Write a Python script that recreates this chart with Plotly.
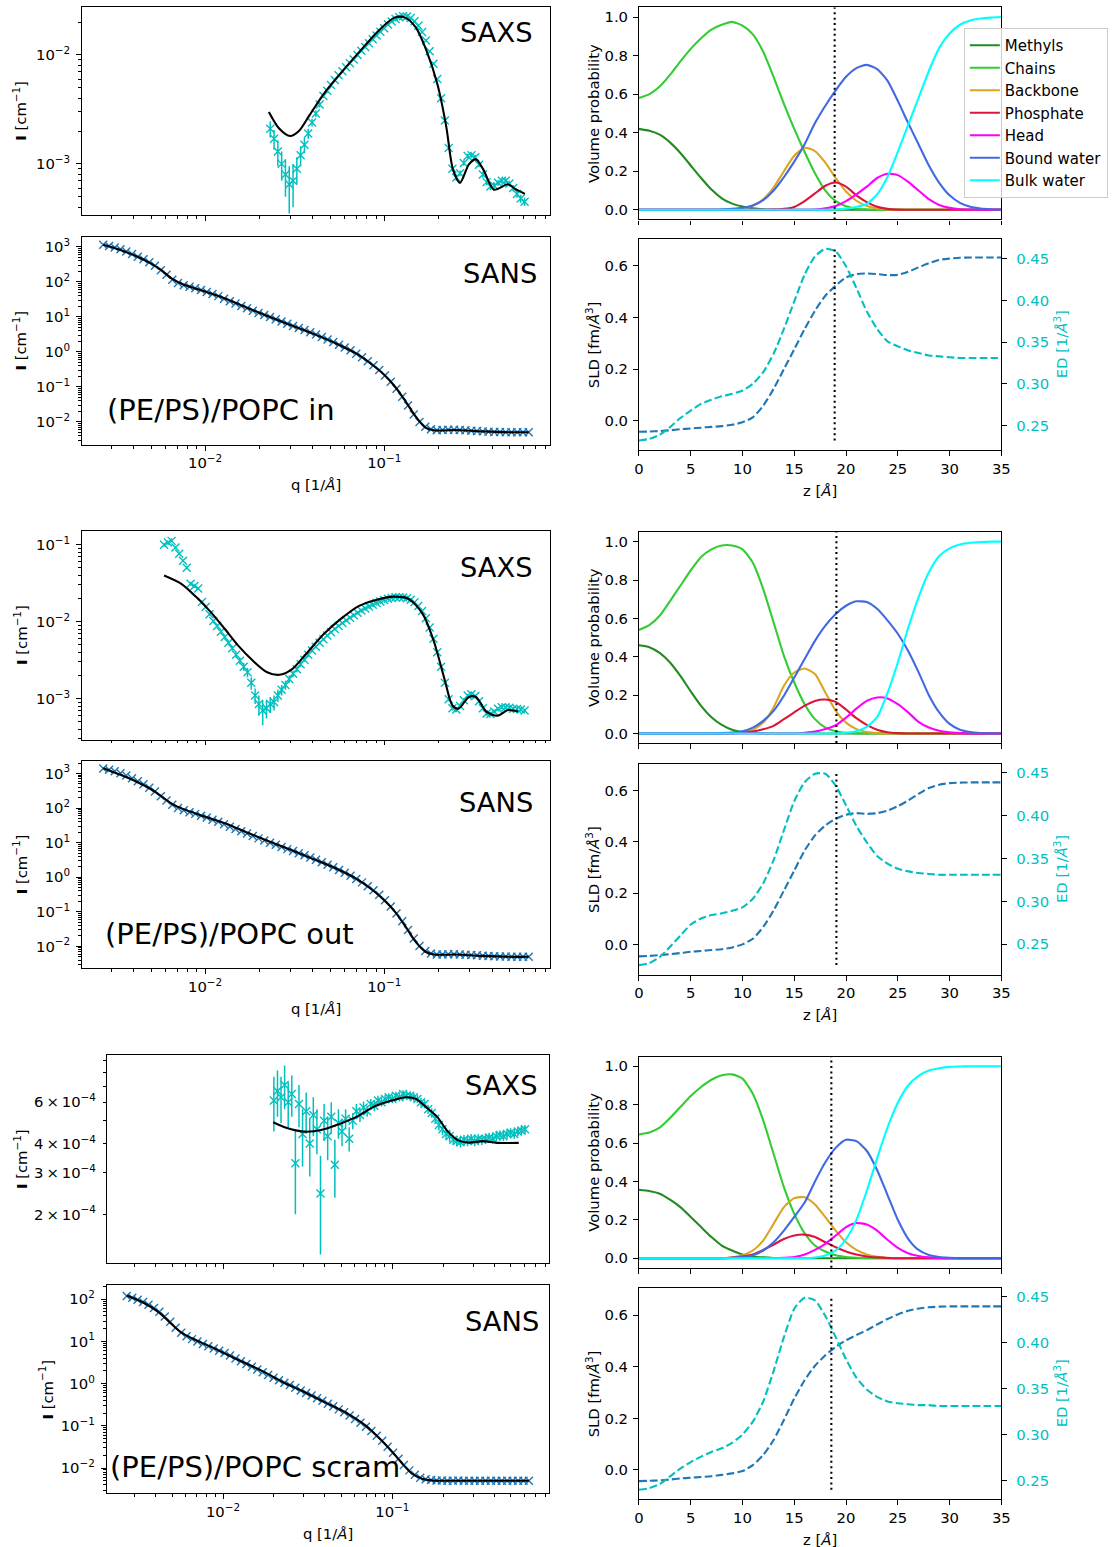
import plotly.graph_objects as go

# ------------------------------------------------------------------ data
SAMPLE_LABELS = ["(PE/PS)/POPC in", "(PE/PS)/POPC out", "(PE/PS)/POPC scram"]
COMPONENTS = ["Methyls", "Chains", "Backbone", "Phosphate", "Head", "Bound water", "Bulk water"]
COMPONENT_COLORS = ["#228b22", "#32cd32", "#daa520", "#dc143c", "#ff00ff", "#4169e1", "#00ffff"]

# SANS: measured q grid [1/A] and intensities [1/cm]
SANS_Q = [
    0.0027, 0.00291, 0.00313, 0.00337, 0.00363, 0.00391, 0.00421, 0.00453, 0.00488, 0.00525,
    0.00566, 0.00609, 0.00656, 0.00706, 0.0076, 0.00819, 0.00881, 0.00949, 0.01022, 0.011,
    0.01185, 0.01276, 0.01374, 0.01479, 0.01593, 0.01715, 0.01846, 0.01988, 0.0214, 0.02305,
    0.02481, 0.02672, 0.02877, 0.03097, 0.03335, 0.03591, 0.03866, 0.04163, 0.04482, 0.04826,
    0.05196, 0.05594, 0.06023, 0.06485, 0.06983, 0.07518, 0.08095, 0.08716, 0.09384, 0.101,
    0.1088, 0.1171, 0.1261, 0.1358, 0.1462, 0.1574, 0.1695, 0.1825, 0.1965, 0.2116,
    0.2278, 0.2453, 0.2641, 0.2843, 0.3061, 0.3296, 0.3549, 0.3821, 0.4114, 0.443,
    0.477, 0.5135, 0.5529, 0.5953, 0.641,
]
SANS_I_IN = [
    1150, 1060, 960, 850, 740, 620, 520, 440, 360, 290,
    215, 160, 115, 92, 80, 72, 65, 58, 51, 45,
    39, 33, 28, 24, 20.5, 17.5, 15, 12.8, 11.2, 9.8,
    8.5, 7.3, 6.3, 5.5, 4.8, 4.2, 3.6, 3.1, 2.65, 2.25,
    1.9, 1.6, 1.33, 1.1, 0.88, 0.7, 0.54, 0.41, 0.3, 0.21,
    0.14, 0.088, 0.052, 0.029, 0.016, 0.0098, 0.0072, 0.0061, 0.0057, 0.0058,
    0.0059, 0.0059, 0.0058, 0.0057, 0.0055, 0.0054, 0.0053, 0.0052, 0.0051, 0.0051,
    0.005, 0.005, 0.005, 0.005, 0.005,
]
SANS_I_OUT = [
    1400, 1290, 1160, 1010, 870, 730, 600, 490, 390, 300,
    220, 165, 125, 100, 86, 76, 68, 60, 53, 46,
    40, 34, 29, 25, 21.5, 18.3, 15.6, 13.3, 11.5, 10,
    8.7, 7.5, 6.5, 5.7, 4.95, 4.3, 3.7, 3.2, 2.7, 2.3,
    1.95, 1.63, 1.35, 1.1, 0.89, 0.71, 0.55, 0.42, 0.31, 0.215,
    0.143, 0.09, 0.053, 0.03, 0.017, 0.0102, 0.0073, 0.0062, 0.0058, 0.0058,
    0.0059, 0.0059, 0.0058, 0.0057, 0.0056, 0.0055, 0.0054, 0.0053, 0.0052, 0.0051,
    0.0051, 0.005, 0.005, 0.005, 0.005,
]
SANS_I_SCRAM = [
    118, 108, 97, 86, 74, 62, 50, 39, 29, 21,
    16, 13.2, 11.3, 9.9, 8.7, 7.7, 6.8, 6.0, 5.3, 4.6,
    3.95, 3.4, 2.9, 2.5, 2.15, 1.85, 1.6, 1.38, 1.2, 1.05,
    0.92, 0.8, 0.69, 0.6, 0.52, 0.45, 0.39, 0.335, 0.29, 0.245,
    0.21, 0.175, 0.145, 0.118, 0.095, 0.075, 0.058, 0.044, 0.032, 0.023,
    0.0165, 0.0118, 0.0088, 0.0069, 0.0059, 0.0054, 0.0052, 0.0051, 0.0051, 0.005,
    0.005, 0.0051, 0.005, 0.005, 0.005, 0.005, 0.005, 0.005, 0.005, 0.005,
    0.005, 0.005, 0.005, 0.005, 0.005,
]

# SANS model curves
SANS_FIT_Q = [0.0027, 0.0034, 0.0042, 0.005, 0.0057, 0.0065, 0.0075, 0.0087, 0.01, 0.013,
              0.017, 0.023, 0.03, 0.04, 0.055, 0.07, 0.085, 0.1, 0.115, 0.13,
              0.15, 0.17, 0.19, 0.25, 0.35, 0.5, 0.641]
SANS_FIT_IN = [1150, 800, 520, 330, 215, 125, 85, 66, 53, 33,
               18.5, 9.9, 5.8, 3.3, 1.65, 0.88, 0.44, 0.22, 0.1, 0.042,
               0.014, 0.0068, 0.0057, 0.0058, 0.0053, 0.005, 0.005]
SANS_FIT_OUT = [1420, 900, 560, 350, 220, 135, 95, 72, 56, 36,
                20, 10.6, 6.2, 3.4, 1.7, 0.9, 0.45, 0.215, 0.1, 0.041,
                0.0135, 0.007, 0.0058, 0.0058, 0.0053, 0.005, 0.005]
SANS_FIT_SCRAM = [122, 82, 48, 25, 16, 12, 9.2, 7.1, 5.4, 3.3,
                  2.0, 1.05, 0.64, 0.36, 0.19, 0.1, 0.048, 0.024, 0.0125, 0.0075,
                  0.0056, 0.0051, 0.005, 0.005, 0.005, 0.005, 0.005]

# SAXS: measured q grid [1/A]; each sample starts at its own first q
SAXS_Q = [
    0.0059, 0.0062, 0.0065, 0.00683, 0.00717, 0.00753, 0.0079, 0.0083, 0.00871, 0.00915,
    0.0096, 0.01008, 0.01059, 0.01112, 0.01167, 0.01226, 0.01287, 0.01351, 0.01419, 0.0149,
    0.01564, 0.01643, 0.01725, 0.01811, 0.01902, 0.01997, 0.02097, 0.02201, 0.02311, 0.02427,
    0.02548, 0.02676, 0.0281, 0.0295, 0.03098, 0.03253, 0.03415, 0.03586, 0.03765, 0.03953,
    0.04151, 0.04359, 0.04577, 0.04806, 0.05046, 0.05298, 0.05563, 0.05841, 0.06134, 0.0644,
    0.06762, 0.071, 0.07455, 0.07828, 0.0822, 0.08631, 0.09062, 0.09515, 0.09991, 0.1049,
    0.1101, 0.1157, 0.1214, 0.1275, 0.1339, 0.1406, 0.1476, 0.155, 0.1627, 0.1709,
    0.1794, 0.1884, 0.1978, 0.2077, 0.2181, 0.229, 0.2404, 0.2525, 0.2651, 0.2783,
    0.2923, 0.3069, 0.3222, 0.3383, 0.3552, 0.373, 0.3917, 0.4112, 0.4318, 0.4534,
    0.476, 0.4998, 0.5248, 0.5511, 0.5786, 0.6076,
]
SAXS_START = [28, 0, 25]

SAXS_I_IN = [
    0.0021, 0.0017, 0.0013, 0.0010, 0.0008, 0.00065, 0.0007, 0.0009, 0.0012, 0.0015,
    0.0019, 0.0024, 0.0029, 0.0035, 0.0042, 0.0047, 0.0053, 0.0059, 0.0065, 0.0071,
    0.0077, 0.0084, 0.0091, 0.0100, 0.0109, 0.0118, 0.0128, 0.0139, 0.0151, 0.0163,
    0.0176, 0.0190, 0.0203, 0.0214, 0.0222, 0.0226, 0.0225, 0.0218, 0.0204, 0.0185,
    0.0162, 0.0136, 0.0108, 0.0083, 0.0060, 0.0040, 0.0025, 0.0014, 0.0009, 0.00075,
    0.00082, 0.00102, 0.00118, 0.0012, 0.00115, 0.00098, 0.0008, 0.00068, 0.00062, 0.00063,
    0.00067, 0.0007, 0.0007, 0.00066, 0.0006, 0.00053, 0.00048, 0.00045,
]
SAXS_ERR_IN = [
    0.00035, 0.00035, 0.00035, 0.0003, 0.0003, 0.0003, 0.0003, 0.00025, 0.00025, 0.00025,
    0.0002, 0.0002, 0.0002, 0.0002, 0.0002, 0.0002, 0.0002, 0.0002, 0.0002, 0.0002,
    0.0002, 0.0002, 0.0002, 0.0003, 0.0003, 0.0003, 0.0003, 0.0003, 0.0004, 0.0004,
    0.0004, 0.0004, 0.0005, 0.0005, 0.0005, 0.0005, 0.0005, 0.0005, 0.0005, 0.0005,
    0.0004, 0.0004, 0.0003, 0.0002, 0.00015, 0.0001, 0.00008, 0.00006, 0.00005, 0.00005,
    0.00005, 0.00006, 0.00006, 0.00006, 0.00006, 0.00005, 0.00005, 0.00004, 0.00004, 0.00004,
    0.00004, 0.00004, 0.00004, 0.00004, 0.00004, 0.00004, 0.00004, 0.00004,
]
SAXS_I_OUT = [
    0.1, 0.107, 0.112, 0.092, 0.076, 0.062, 0.05, 0.031, 0.029, 0.027,
    0.018, 0.0155, 0.0125, 0.0102, 0.0088, 0.0074, 0.0063, 0.0053, 0.0045, 0.0037,
    0.0031, 0.0026, 0.0022, 0.0016, 0.0011, 0.00085, 0.0007, 0.00075, 0.00085, 0.0009,
    0.0011, 0.0013, 0.0015, 0.0018, 0.0021, 0.0024, 0.0028, 0.0032, 0.0037, 0.0042,
    0.0047, 0.0053, 0.0059, 0.0066, 0.0073, 0.008, 0.0088, 0.0096, 0.0104, 0.0112,
    0.0121, 0.013, 0.0139, 0.0148, 0.0157, 0.0166, 0.0175, 0.0183, 0.0191, 0.0198,
    0.0203, 0.0207, 0.0208, 0.0206, 0.0201, 0.0192, 0.0178, 0.016, 0.0137, 0.0111,
    0.0084, 0.006, 0.004, 0.0026, 0.0016, 0.00098, 0.00075, 0.00072, 0.0008, 0.00095,
    0.0011, 0.00114, 0.00108, 0.00092, 0.00075, 0.00064, 0.00063, 0.00068, 0.00074, 0.00077,
    0.00077, 0.00076, 0.00074, 0.00073, 0.00072, 0.0007,
]
SAXS_ERR_OUT = [
    0.004, 0.004, 0.004, 0.003, 0.003, 0.002, 0.002, 0.0015, 0.0012, 0.001,
    0.0008, 0.0006, 0.0005, 0.0004, 0.0004, 0.0003, 0.0003, 0.0003, 0.0003, 0.0003,
    0.0003, 0.0003, 0.0003, 0.0003, 0.00025, 0.00025, 0.00025, 0.0002, 0.0002, 0.0002,
    0.0002, 0.0002, 0.0002, 0.0002, 0.0002, 0.0002, 0.0002, 0.0002, 0.0002, 0.0002,
    0.0002, 0.0002, 0.0002, 0.0002, 0.0003, 0.0003, 0.0003, 0.0003, 0.0003, 0.0003,
    0.0003, 0.0003, 0.0004, 0.0004, 0.0004, 0.0004, 0.0004, 0.0004, 0.0004, 0.0004,
    0.0004, 0.0004, 0.0004, 0.0004, 0.0004, 0.0004, 0.0004, 0.0004, 0.0004, 0.0003,
    0.0003, 0.0002, 0.00015, 0.0001, 0.00008, 0.00006, 0.00005, 0.00005, 0.00005, 0.00005,
    0.00005, 0.00005, 0.00005, 0.00005, 0.00004, 0.00004, 0.00004, 0.00004, 0.00004, 0.00004,
    0.00004, 0.00004, 0.00004, 0.00004, 0.00004, 0.00004,
]
SAXS_I_SCRAM = [
    6.1e-4, 6.7e-4, 6.3e-4, 7.1e-4, 6.0e-4, 6.5e-4, 3.3e-4, 5.9e-4, 4.4e-4, 5.5e-4,
    4.0e-4, 5.3e-4, 4.6e-4, 2.45e-4, 5.0e-4, 4.3e-4, 5.2e-4, 3.25e-4, 4.9e-4, 4.5e-4,
    5.1e-4, 4.2e-4, 5.0e-4, 5.5e-4, 5.3e-4, 5.7e-4, 5.5e-4, 5.9e-4, 5.8e-4, 6.1e-4,
    6.0e-4, 6.2e-4, 6.3e-4, 6.2e-4, 6.4e-4, 6.3e-4, 6.5e-4, 6.4e-4, 6.4e-4, 6.3e-4,
    6.2e-4, 6.0e-4, 5.9e-4, 5.6e-4, 5.4e-4, 5.1e-4, 4.8e-4, 4.6e-4, 4.4e-4, 4.3e-4,
    4.15e-4, 4.1e-4, 4.05e-4, 4.15e-4, 4.1e-4, 4.2e-4, 4.1e-4, 4.2e-4, 4.15e-4, 4.2e-4,
    4.25e-4, 4.2e-4, 4.3e-4, 4.35e-4, 4.3e-4, 4.4e-4, 4.45e-4, 4.4e-4, 4.5e-4, 4.55e-4,
    4.6e-4,
]
SAXS_ERR_SCRAM = [
    1.6e-4, 1.5e-4, 1.4e-4, 1.5e-4, 1.3e-4, 1.3e-4, 1.3e-4, 1.2e-4, 1.2e-4, 1.1e-4,
    1.1e-4, 1.0e-4, 1.0e-4, 1.1e-4, 0.9e-4, 0.9e-4, 0.8e-4, 0.9e-4, 0.7e-4, 0.6e-4,
    0.5e-4, 0.5e-4, 0.4e-4, 0.4e-4, 0.35e-4, 0.35e-4, 0.3e-4, 0.3e-4, 0.3e-4, 0.3e-4,
    0.25e-4, 0.25e-4, 0.25e-4, 0.25e-4, 0.25e-4, 0.25e-4, 0.25e-4, 0.25e-4, 0.25e-4, 0.25e-4,
    0.25e-4, 0.25e-4, 0.25e-4, 0.25e-4, 0.25e-4, 0.25e-4, 0.25e-4, 0.25e-4, 0.25e-4, 0.25e-4,
    0.2e-4, 0.2e-4, 0.2e-4, 0.2e-4, 0.2e-4, 0.2e-4, 0.2e-4, 0.2e-4, 0.2e-4, 0.2e-4,
    0.2e-4, 0.2e-4, 0.2e-4, 0.2e-4, 0.2e-4, 0.2e-4, 0.2e-4, 0.2e-4, 0.2e-4, 0.2e-4,
    0.2e-4,
]

# SAXS model curves
SAXS_FIT_Q_IN = [0.0227, 0.026, 0.0298, 0.0334, 0.0383, 0.046, 0.0577, 0.0724, 0.091, 0.114,
                 0.131, 0.15, 0.172, 0.198, 0.222, 0.242, 0.265, 0.297, 0.325, 0.357,
                 0.41, 0.49, 0.53, 0.61]
SAXS_FIT_IN = [0.0030, 0.0021, 0.0018, 0.0020, 0.0028, 0.0044, 0.0069, 0.0106, 0.0161, 0.0220,
               0.0220, 0.0179, 0.0110, 0.0054, 0.0022, 0.00089, 0.00067, 0.00099, 0.0011, 0.00089,
               0.00058, 0.00065, 0.0006, 0.00053]
SAXS_FIT_Q_OUT = [0.0059, 0.0074, 0.0089, 0.0107, 0.0128, 0.0154, 0.0185, 0.0222, 0.026, 0.0305,
                  0.0366, 0.046, 0.0577, 0.0724, 0.091, 0.114, 0.137, 0.164, 0.19, 0.217,
                  0.24, 0.26, 0.297, 0.325, 0.373, 0.43, 0.49, 0.56]
SAXS_FIT_OUT = [0.0397, 0.0308, 0.021, 0.0135, 0.0082, 0.0048, 0.0031, 0.0022, 0.00204, 0.0024,
                0.0038, 0.0069, 0.011, 0.016, 0.0193, 0.0211, 0.0197, 0.0126, 0.0054, 0.0018,
                0.00082, 0.00074, 0.00105, 0.00105, 0.00067, 0.0006, 0.00071, 0.00068]
SAXS_FIT_Q_SCRAM = [0.0198, 0.0236, 0.03, 0.038, 0.0483, 0.0614, 0.078, 0.0991, 0.12, 0.138,
                    0.159, 0.184, 0.213, 0.245, 0.283, 0.343, 0.415, 0.558]
SAXS_FIT_SCRAM = [4.93e-4, 4.67e-4, 4.5e-4, 4.57e-4, 4.84e-4, 5.2e-4, 5.75e-4, 6.1e-4, 6.3e-4, 6.2e-4,
                  5.7e-4, 5.2e-4, 4.5e-4, 4.13e-4, 4.04e-4, 4.1e-4, 4.03e-4, 4.03e-4]

# Volume probability profiles along the bilayer normal z [A]
Z = [0, 1, 2, 3, 4, 5, 6, 7, 8, 9, 10, 11, 12, 13, 14, 15, 16, 17,
     18, 19, 20, 21, 22, 23, 24, 25, 26, 27, 28, 29, 30, 31, 32, 33, 34, 35]

METHYLS_IN = [0.42, 0.41, 0.39, 0.35, 0.295, 0.23, 0.165, 0.105, 0.06, 0.032, 0.017, 0.008, 0.003, 0.001,
              0, 0, 0, 0, 0, 0, 0, 0, 0, 0, 0, 0, 0, 0, 0, 0, 0, 0, 0, 0, 0, 0]
CHAINS_IN = [0.58, 0.60, 0.64, 0.70, 0.77, 0.835, 0.89, 0.935, 0.96, 0.975, 0.955, 0.91, 0.82, 0.69,
             0.55, 0.42, 0.30, 0.19, 0.10, 0.045, 0.018, 0.006, 0.002, 0, 0, 0, 0, 0, 0, 0, 0, 0, 0, 0, 0, 0]
BACKBONE_IN = [0, 0, 0, 0, 0, 0, 0, 0, 0, 0.002, 0.008, 0.022, 0.055, 0.115, 0.2, 0.28, 0.322, 0.305,
               0.245, 0.165, 0.095, 0.047, 0.02, 0.007, 0.002, 0, 0, 0, 0, 0, 0, 0, 0, 0, 0, 0]
PHOSPHATE_IN = [0, 0, 0, 0, 0, 0, 0, 0, 0, 0, 0, 0, 0, 0.001, 0.005, 0.015, 0.045, 0.085,
                0.125, 0.142, 0.12, 0.075, 0.04, 0.016, 0.005, 0.001, 0, 0, 0, 0, 0, 0, 0, 0, 0, 0]
HEAD_IN = [0, 0, 0, 0, 0, 0, 0, 0, 0, 0, 0, 0, 0, 0, 0, 0, 0, 0.002,
           0.008, 0.02, 0.045, 0.08, 0.12, 0.165, 0.187, 0.18, 0.145, 0.1, 0.055, 0.025, 0.01, 0.003, 0.001, 0, 0, 0]
BOUND_IN = [0, 0, 0, 0, 0, 0, 0, 0, 0.002, 0.005, 0.01, 0.022, 0.05, 0.1, 0.17, 0.25, 0.34, 0.45,
            0.54, 0.62, 0.69, 0.735, 0.752, 0.73, 0.67, 0.565, 0.45, 0.34, 0.23, 0.14, 0.075, 0.036, 0.016, 0.007, 0.003, 0.001]
BULK_IN = [0, 0, 0, 0, 0, 0, 0, 0, 0, 0, 0, 0, 0, 0, 0, 0, 0, 0,
           0, 0.002, 0.006, 0.015, 0.03, 0.08, 0.17, 0.30, 0.44, 0.58, 0.72, 0.84, 0.915, 0.96, 0.982, 0.992, 0.997, 1.0]

METHYLS_OUT = [0.46, 0.45, 0.42, 0.37, 0.30, 0.22, 0.144, 0.085, 0.045, 0.02, 0.008, 0.003, 0.001,
               0, 0, 0, 0, 0, 0, 0, 0, 0, 0, 0, 0, 0, 0, 0, 0, 0, 0, 0, 0, 0, 0, 0]
CHAINS_OUT = [0.54, 0.565, 0.614, 0.69, 0.77, 0.85, 0.92, 0.96, 0.98, 0.98, 0.96, 0.89, 0.753, 0.58,
              0.405, 0.266, 0.153, 0.075, 0.031, 0.012, 0.004, 0.001, 0, 0, 0, 0, 0, 0, 0, 0, 0, 0, 0, 0, 0, 0]
BACKBONE_OUT = [0, 0, 0, 0, 0, 0, 0, 0, 0, 0, 0.005, 0.02, 0.057, 0.136, 0.249, 0.318, 0.339, 0.31,
                0.214, 0.118, 0.057, 0.023, 0.008, 0.002, 0, 0, 0, 0, 0, 0, 0, 0, 0, 0, 0, 0]
PHOSPHATE_OUT = [0, 0, 0, 0, 0, 0, 0, 0, 0, 0, 0.004, 0.01, 0.022, 0.04, 0.075, 0.11, 0.145, 0.17,
                 0.177, 0.165, 0.125, 0.08, 0.045, 0.02, 0.007, 0.002, 0, 0, 0, 0, 0, 0, 0, 0, 0, 0]
HEAD_OUT = [0, 0, 0, 0, 0, 0, 0, 0, 0, 0, 0, 0, 0, 0, 0, 0, 0.004, 0.01,
            0.023, 0.043, 0.083, 0.13, 0.17, 0.188, 0.183, 0.153, 0.11, 0.061, 0.031, 0.014, 0.006, 0.002, 0, 0, 0, 0]
BOUND_OUT = [0, 0, 0, 0, 0, 0, 0, 0, 0.002, 0.005, 0.012, 0.031, 0.066, 0.118, 0.197, 0.292, 0.388, 0.483,
             0.562, 0.623, 0.666, 0.689, 0.685, 0.65, 0.59, 0.52, 0.43, 0.32, 0.2, 0.11, 0.05, 0.02, 0.008, 0.003, 0.001, 0]
BULK_OUT = [0, 0, 0, 0, 0, 0, 0, 0, 0, 0, 0, 0, 0, 0, 0, 0, 0, 0,
            0, 0, 0.004, 0.012, 0.035, 0.085, 0.21, 0.37, 0.55, 0.71, 0.84, 0.925, 0.965, 0.985, 0.994, 0.998, 1.0, 1.0]

METHYLS_SCRAM = [0.357, 0.35, 0.336, 0.305, 0.266, 0.215, 0.162, 0.11, 0.066, 0.04, 0.019, 0.009, 0.004, 0.001,
                 0, 0, 0, 0, 0, 0, 0, 0, 0, 0, 0, 0, 0, 0, 0, 0, 0, 0, 0, 0, 0, 0]
CHAINS_SCRAM = [0.645, 0.655, 0.68, 0.73, 0.788, 0.845, 0.892, 0.93, 0.953, 0.958, 0.936, 0.857, 0.718, 0.544,
                0.37, 0.231, 0.13, 0.066, 0.035, 0.015, 0.006, 0.002, 0, 0, 0, 0, 0, 0, 0, 0, 0, 0, 0, 0, 0, 0]
BACKBONE_SCRAM = [0, 0, 0, 0, 0, 0, 0, 0, 0, 0.004, 0.015, 0.04, 0.092, 0.179, 0.266, 0.313, 0.318, 0.28,
                  0.214, 0.144, 0.083, 0.043, 0.019, 0.007, 0.002, 0, 0, 0, 0, 0, 0, 0, 0, 0, 0, 0]
PHOSPHATE_SCRAM = [0, 0, 0, 0, 0, 0, 0, 0, 0, 0.003, 0.008, 0.019, 0.043, 0.071, 0.1, 0.118, 0.123, 0.11,
                   0.083, 0.057, 0.035, 0.019, 0.009, 0.004, 0.001, 0, 0, 0, 0, 0, 0, 0, 0, 0, 0, 0]
HEAD_SCRAM = [0, 0, 0, 0, 0, 0, 0, 0, 0, 0, 0, 0, 0, 0, 0.002, 0.006, 0.019, 0.043,
              0.075, 0.118, 0.162, 0.183, 0.176, 0.144, 0.096, 0.054, 0.026, 0.011, 0.004, 0.001, 0, 0, 0, 0, 0, 0]
BOUND_SCRAM = [0, 0, 0, 0, 0, 0, 0, 0, 0, 0.002, 0.006, 0.015, 0.04, 0.083, 0.144, 0.215, 0.29, 0.40,
               0.50, 0.575, 0.617, 0.61, 0.56, 0.46, 0.33, 0.2, 0.101, 0.043, 0.017, 0.006, 0.002, 0, 0, 0, 0, 0]
BULK_SCRAM = [0, 0, 0, 0, 0, 0, 0, 0, 0, 0, 0, 0, 0, 0, 0, 0, 0, 0.004,
              0.014, 0.04, 0.1, 0.2, 0.35, 0.52, 0.68, 0.81, 0.9, 0.95, 0.978, 0.99, 0.997, 0.999, 1.0, 1.0, 1.0, 1.0]

# Neutron scattering length density [fm/A^3] and electron density [1/A^3]
SLD_IN = [-0.043, -0.042, -0.04, -0.037, -0.033, -0.030, -0.027, -0.024, -0.021, -0.016,
          -0.006, 0.013, 0.058, 0.123, 0.2, 0.277, 0.355, 0.426, 0.484, 0.523,
          0.555, 0.568, 0.57, 0.568, 0.564, 0.565, 0.577, 0.594, 0.61, 0.623,
          0.628, 0.631, 0.632, 0.632, 0.632, 0.632]
ED_IN = [0.232, 0.234, 0.239, 0.248, 0.259, 0.268, 0.276, 0.281, 0.285, 0.288,
         0.292, 0.30, 0.314, 0.336, 0.366, 0.399, 0.431, 0.453, 0.462, 0.459,
         0.441, 0.415, 0.387, 0.366, 0.351, 0.345, 0.34, 0.337, 0.334, 0.333,
         0.332, 0.331, 0.331, 0.331, 0.331, 0.331]
SLD_OUT = [-0.047, -0.045, -0.042, -0.038, -0.034, -0.029, -0.026, -0.022, -0.019, -0.012,
           0.0, 0.022, 0.068, 0.132, 0.21, 0.288, 0.366, 0.425, 0.464, 0.49,
           0.506, 0.512, 0.509, 0.512, 0.522, 0.539, 0.561, 0.587, 0.61, 0.623,
           0.629, 0.631, 0.632, 0.632, 0.632, 0.632]
ED_OUT = [0.2256, 0.228, 0.235, 0.247, 0.26, 0.273, 0.28, 0.284, 0.286, 0.289,
          0.293, 0.303, 0.321, 0.348, 0.383, 0.417, 0.439, 0.449, 0.449, 0.435,
          0.412, 0.388, 0.369, 0.353, 0.344, 0.338, 0.335, 0.333, 0.332, 0.331,
          0.331, 0.331, 0.331, 0.331, 0.331, 0.331]
SLD_SCRAM = [-0.043, -0.042, -0.04, -0.037, -0.033, -0.030, -0.027, -0.024, -0.019, -0.013,
             -0.004, 0.019, 0.058, 0.116, 0.194, 0.277, 0.348, 0.404, 0.445, 0.477,
             0.503, 0.523, 0.542, 0.564, 0.585, 0.603, 0.617, 0.626, 0.631, 0.633,
             0.634, 0.634, 0.634, 0.634, 0.634, 0.634]
ED_SCRAM = [0.2398, 0.2416, 0.246, 0.2544, 0.263, 0.270, 0.276, 0.281, 0.285, 0.291,
            0.300, 0.314, 0.336, 0.369, 0.406, 0.437, 0.449, 0.446, 0.429, 0.406,
            0.382, 0.362, 0.349, 0.341, 0.336, 0.334, 0.333, 0.332, 0.332, 0.331,
            0.331, 0.331, 0.331, 0.331, 0.331, 0.331]

# Position of the hydrophobic/hydrophilic boundary [A]
BOUNDARY_Z = [18.9, 19.07, 18.58]

# ------------------------------------------------------------------ style
FONT = "DejaVu Sans"
W, H = 1117, 1547
TXT = 14.8
LEG = 15.0
TAG = 27.3
SAMPLE = 29.0
CYAN = "#00bfbf"
TAB_BLUE = "#1f77b4"
LW = 2.1
DASHED = "7.7px,3.3px"
DOTTED = "2px,3.4px"

# panel boxes in pixels (left, right) / (top, bottom)
LEFT_X = [(78, 552), (78, 552), (103, 551)]
SAXS_Y = [(6, 214), (530, 739), (1055, 1263)]
SANS_Y = [(236, 444), (760, 968), (1285, 1493)]
RIGHT_X = (642, 1009)
VOL_Y = [(6.4, 218.6), (531.4, 742.6), (1056.4, 1267.6)]
SLD_Y = [(238.4, 449.4), (763.6, 974.3), (1287.9, 1499.4)]

Q_RANGE = [-2.687, -0.074]
SAXS_YRANGE = [[-3.468, -1.560], [-3.532, -0.818], [-3.907, -3.022]]
SANS_YRANGE = [[-2.657, 3.286], [-2.636, 3.376], [-2.592, 2.331]]
SAXS_YTICKS = [[1e-3, 1e-2], [1e-3, 1e-2, 1e-1], [2e-4, 3e-4, 4e-4, 6e-4]]
SANS_YTICKS = [[1e-2, 1e-1, 1, 10, 100, 1000], [1e-2, 1e-1, 1, 10, 100, 1000], [1e-2, 1e-1, 1, 10, 100]]

SAXS_SETS = [(SAXS_I_IN, SAXS_ERR_IN, SAXS_FIT_Q_IN, SAXS_FIT_IN),
             (SAXS_I_OUT, SAXS_ERR_OUT, SAXS_FIT_Q_OUT, SAXS_FIT_OUT),
             (SAXS_I_SCRAM, SAXS_ERR_SCRAM, SAXS_FIT_Q_SCRAM, SAXS_FIT_SCRAM)]
SANS_SETS = [(SANS_I_IN, SANS_FIT_IN), (SANS_I_OUT, SANS_FIT_OUT), (SANS_I_SCRAM, SANS_FIT_SCRAM)]
VOL_SETS = [
    [METHYLS_IN, CHAINS_IN, BACKBONE_IN, PHOSPHATE_IN, HEAD_IN, BOUND_IN, BULK_IN],
    [METHYLS_OUT, CHAINS_OUT, BACKBONE_OUT, PHOSPHATE_OUT, HEAD_OUT, BOUND_OUT, BULK_OUT],
    [METHYLS_SCRAM, CHAINS_SCRAM, BACKBONE_SCRAM, PHOSPHATE_SCRAM, HEAD_SCRAM, BOUND_SCRAM, BULK_SCRAM],
]
DENSITY_SETS = [(SLD_IN, ED_IN), (SLD_OUT, ED_OUT), (SLD_SCRAM, ED_SCRAM)]

MINOR_LOG = [k * 10.0 ** e for e in range(-6, 5) for k in range(2, 10)]


def dom_x(lr):
    return [lr[0] / W, lr[1] / W]


def dom_y(tb):
    return [1 - tb[1] / H, 1 - tb[0] / H]


def names(n):
    s = "" if n == 1 else str(n)
    return "xaxis" + s, "yaxis" + s, "x" + s, "y" + s


def axis(**kw):
    d = dict(showline=True, linecolor="black", linewidth=1.1, mirror=True,
             ticks="outside", ticklen=4.9, tickwidth=1.1, tickcolor="black",
             showgrid=False, zeroline=False,
             tickfont=dict(family=FONT, size=TXT, color="black"))
    d.update(kw)
    return d


def minor(vals=MINOR_LOG):
    return dict(tickmode="array", tickvals=vals, ticks="outside", ticklen=2.8,
                tickwidth=0.8, tickcolor="black", showgrid=False)


def pow_label(v):
    e = 0
    x = v
    while x >= 10:
        x /= 10
        e += 1
    while x < 1:
        x *= 10
        e -= 1
    exp = ("\u2212" if e < 0 else "") + str(abs(e))
    m = int(round(x))
    if m == 1:
        return "10<sup>%s</sup>" % exp
    return "%d\u2009\u00d7\u200910<sup>%s</sup>" % (m, exp)


def text(x, y, s, size=TXT, color="black", angle=0, xanchor="center", yanchor="middle"):
    return dict(x=x / W, y=1 - y / H, xref="paper", yref="paper", text=s, showarrow=False,
                font=dict(family=FONT, size=size, color=color), textangle=angle,
                xanchor=xanchor, yanchor=yanchor, borderpad=0)


fig = go.Figure()
layout = {}
annotations = []
shapes = []

SAXS_TITLE_X = [15, 15, 15]
SANS_TITLE_X = [15, 15, 41]
Q_TITLE = [(315, 484), (315, 1008), (327, 1533)]
SAXS_TAG = [(536, 32), (536, 567), (541, 1085)]
SANS_TAG = [(540, 273), (536, 802), (542, 1321)]
SAMPLE_TAG = [(102, 409), (100, 934), (105, 1467)]

for g in range(3):
    n_saxs, n_sans, n_vol, n_sld = 4 * g + 1, 4 * g + 2, 4 * g + 3, 4 * g + 4
    n_ed = 13 + g

    # ---------------- SAXS
    xa, ya, xr, yr = names(n_saxs)
    I, err, fq, fi = SAXS_SETS[g]
    q = SAXS_Q[SAXS_START[g]:]
    fig.add_trace(go.Scatter(
        x=q, y=I, mode="markers", xaxis=xr, yaxis=yr, showlegend=False,
        marker=dict(symbol="x-thin", size=8, color=CYAN, line=dict(width=1.4, color=CYAN)),
        error_y=dict(type="data", array=err, color=CYAN, thickness=1.5, width=0)))
    fig.add_trace(go.Scatter(
        x=fq, y=fi, mode="lines", xaxis=xr, yaxis=yr, showlegend=False,
        line=dict(color="black", width=LW, shape="spline", smoothing=0.8)))
    layout[xa] = axis(type="log", range=Q_RANGE, domain=dom_x(LEFT_X[g]), anchor=yr,
                      tickmode="array", tickvals=[1e-2, 1e-1], showticklabels=False, minor=minor())
    yt = SAXS_YTICKS[g]
    if g == 2:
        layout[ya] = axis(type="log", range=SAXS_YRANGE[g], domain=dom_y(SAXS_Y[g]), anchor=xr,
                          tickmode="array", tickvals=yt, ticktext=[pow_label(v) for v in yt],
                          ticklen=2.8, tickwidth=0.8, ticklabelstandoff=4,
                          minor=minor([1e-4, 5e-4, 7e-4, 8e-4, 9e-4, 1e-3]))
    else:
        layout[ya] = axis(type="log", range=SAXS_YRANGE[g], domain=dom_y(SAXS_Y[g]), anchor=xr,
                          tickmode="array", tickvals=yt, ticktext=[pow_label(v) for v in yt],
                          ticklabelstandoff=3, minor=minor())

    # ---------------- SANS
    xa, ya, xr, yr = names(n_sans)
    I, fi = SANS_SETS[g]
    fig.add_trace(go.Scatter(
        x=SANS_Q, y=I, mode="markers", xaxis=xr, yaxis=yr, showlegend=False,
        marker=dict(symbol="x-thin", size=8, color=TAB_BLUE, line=dict(width=1.4, color=TAB_BLUE))))
    fig.add_trace(go.Scatter(
        x=SANS_FIT_Q, y=fi, mode="lines", xaxis=xr, yaxis=yr, showlegend=False,
        line=dict(color="black", width=LW, shape="spline", smoothing=0.8)))
    layout[xa] = axis(type="log", range=Q_RANGE, domain=dom_x(LEFT_X[g]), anchor=yr,
                      tickmode="array", tickvals=[1e-2, 1e-1],
                      ticktext=[pow_label(1e-2), pow_label(1e-1)], minor=minor())
    yt = SANS_YTICKS[g]
    layout[ya] = axis(type="log", range=SANS_YRANGE[g], domain=dom_y(SANS_Y[g]), anchor=xr,
                      tickmode="array", tickvals=yt, ticktext=[pow_label(v) for v in yt],
                      ticklabelstandoff=3, minor=minor())

    # ---------------- volume probabilities
    xa, ya, xr, yr = names(n_vol)
    for name, color, vals in zip(COMPONENTS, COMPONENT_COLORS, VOL_SETS[g]):
        fig.add_trace(go.Scatter(
            x=Z, y=vals, mode="lines", name=name, legendgroup=name, showlegend=(g == 0),
            xaxis=xr, yaxis=yr, line=dict(color=color, width=LW, shape="spline", smoothing=0.6)))
    layout[xa] = axis(range=[0, 35], domain=dom_x(RIGHT_X), anchor=yr,
                      tickmode="array", tickvals=[0, 5, 10, 15, 20, 25, 30, 35], showticklabels=False)
    layout[ya] = axis(range=[-0.05, 1.05], domain=dom_y(VOL_Y[g]), anchor=xr,
                      tickmode="array", tickvals=[0, 0.2, 0.4, 0.6, 0.8, 1.0], tickformat=".1f",
                      ticklabelstandoff=2)
    shapes.append(dict(type="line", xref=xr, yref=yr + " domain", x0=BOUNDARY_Z[g], x1=BOUNDARY_Z[g],
                       y0=0, y1=1, line=dict(color="black", width=LW, dash=DOTTED)))

    # ---------------- SLD / ED
    xa, ya, xr, yr = names(n_sld)
    ya2, yr2 = "yaxis%d" % n_ed, "y%d" % n_ed
    sld, ed = DENSITY_SETS[g]
    fig.add_trace(go.Scatter(
        x=Z, y=sld, mode="lines", xaxis=xr, yaxis=yr, showlegend=False,
        line=dict(color=TAB_BLUE, width=LW, dash=DASHED, shape="spline", smoothing=0.6)))
    fig.add_trace(go.Scatter(
        x=Z, y=ed, mode="lines", xaxis=xr, yaxis=yr2, showlegend=False,
        line=dict(color=CYAN, width=LW, dash=DASHED, shape="spline", smoothing=0.6)))

    # autoscaled limits with 5 % margins, as for the plotted profiles
    s_lo, s_hi = min(sld), max(sld)
    d_lo, d_hi = s_lo - 0.05 * (s_hi - s_lo), s_hi + 0.05 * (s_hi - s_lo)
    p_lo, p_hi = d_lo - 0.05 * (d_hi - d_lo), d_hi + 0.05 * (d_hi - d_lo)
    e_lo, e_hi = min(ed), max(ed)
    e_rng = [e_lo - 0.05 * (e_hi - e_lo), e_hi + 0.05 * (e_hi - e_lo)]

    layout[xa] = axis(range=[0, 35], domain=dom_x(RIGHT_X), anchor=yr,
                      tickmode="array", tickvals=[0, 5, 10, 15, 20, 25, 30, 35])
    layout[ya] = axis(range=[p_lo, p_hi], domain=dom_y(SLD_Y[g]), anchor=xr,
                      tickmode="array", tickvals=[0, 0.2, 0.4, 0.6], tickformat=".1f",
                      ticklabelstandoff=2)
    layout[ya2] = dict(range=e_rng, overlaying=yr, anchor=xr, side="right", showline=False,
                       ticks="outside", ticklen=4.9, tickwidth=1.1, tickcolor="black",
                       showgrid=False, zeroline=False, tickmode="array",
                       tickvals=[0.25, 0.30, 0.35, 0.40, 0.45], tickformat=".2f",
                       ticklabelstandoff=6,
                       tickfont=dict(family=FONT, size=TXT, color=CYAN))
    shapes.append(dict(type="line", xref=xr, yref=yr, x0=BOUNDARY_Z[g], x1=BOUNDARY_Z[g],
                       y0=d_lo, y1=d_hi, line=dict(color="black", width=LW, dash=DOTTED)))

    # ---------------- texts
    t_saxs = (SAXS_Y[g][0] + SAXS_Y[g][1]) / 2
    t_sans = (SANS_Y[g][0] + SANS_Y[g][1]) / 2
    annotations.append(text(SAXS_TITLE_X[g], t_saxs, "<b>I</b> [cm<sup>\u22121</sup>]", angle=-90))
    annotations.append(text(SANS_TITLE_X[g], t_sans, "<b>I</b> [cm<sup>\u22121</sup>]", angle=-90))
    annotations.append(text(Q_TITLE[g][0], Q_TITLE[g][1], "q [1/<i>\u00c5</i>]"))
    annotations.append(text(SAXS_TAG[g][0], SAXS_TAG[g][1], "SAXS", size=TAG, xanchor="right"))
    annotations.append(text(SANS_TAG[g][0], SANS_TAG[g][1], "SANS", size=TAG, xanchor="right"))
    annotations.append(text(SAMPLE_TAG[g][0], SAMPLE_TAG[g][1], SAMPLE_LABELS[g], size=SAMPLE, xanchor="left"))

    t_vol = (VOL_Y[g][0] + VOL_Y[g][1]) / 2
    t_sld = (SLD_Y[g][0] + SLD_Y[g][1]) / 2
    annotations.append(text(596, t_vol, "Volume probability", angle=-90))
    annotations.append(text(595, t_sld, "SLD [fm/<i>\u00c5</i><sup>3</sup>]", angle=-90))
    annotations.append(text(1069, t_sld, "ED [1/<i>\u00c5</i><sup>3</sup>]", color=CYAN, angle=-90))
    annotations.append(text(825, SLD_Y[g][1] + 40, "z [<i>\u00c5</i>]"))

fig.update_layout(
    width=W, height=H, autosize=False,
    margin=dict(l=0, r=0, t=0, b=0),
    paper_bgcolor="white", plot_bgcolor="white",
    font=dict(family=FONT, size=TXT, color="black"),
    legend=dict(x=971 / W, y=1 - 27 / H, xanchor="left", yanchor="top",
                bgcolor="rgba(255,255,255,0.8)", bordercolor="#cccccc", borderwidth=1,
                font=dict(family=FONT, size=LEG, color="black"), tracegroupgap=0,
                itemwidth=30),
    annotations=annotations, shapes=shapes,
    **layout,
)

fig.write_html("out.html")
